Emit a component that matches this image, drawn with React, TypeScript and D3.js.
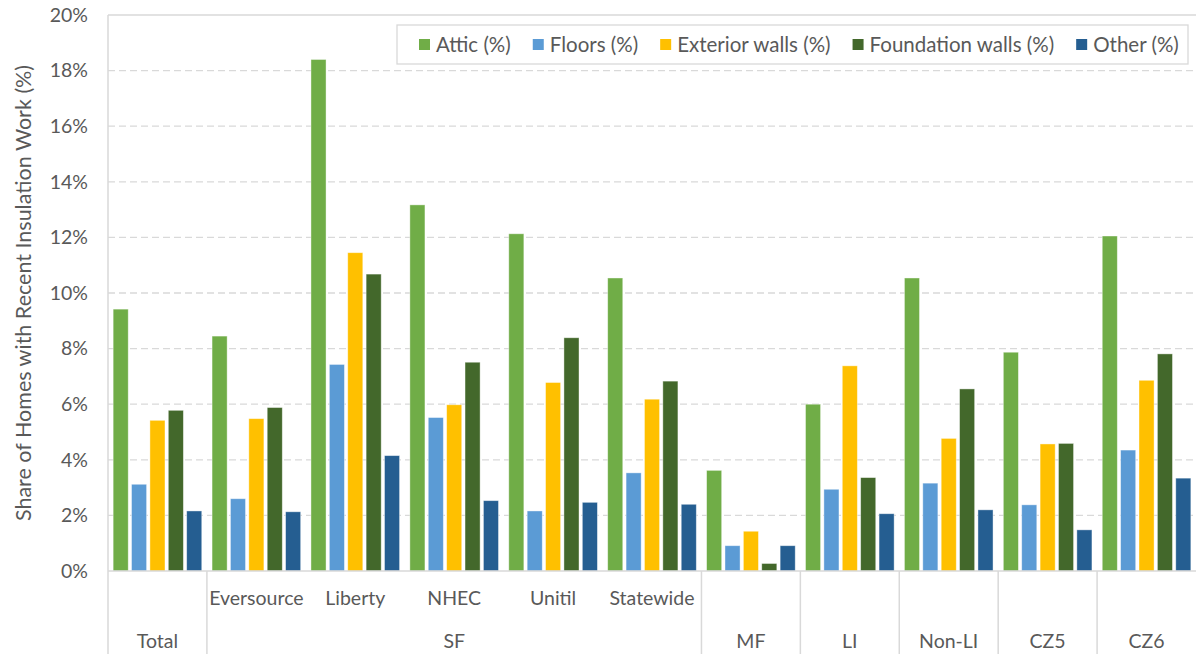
import * as d3 from "d3";
import React, { useEffect, useRef } from "react";

// categories (inner label / outer label for each cluster)
const innerLabels = ["", "Eversource", "Liberty", "NHEC", "Unitil", "Statewide", "", "", "", "", ""];
const outerLabels = ["Total", "SF", "SF", "SF", "SF", "SF", "MF", "LI", "Non-LI", "CZ5", "CZ6"];

const seriesNames = ["Attic (%)", "Floors (%)", "Exterior walls (%)", "Foundation walls (%)", "Other (%)"];
const seriesColors = ["#70AD47", "#5B9BD5", "#FFC000", "#43682B", "#255E91"];

// values in percent
const attic = [9.42, 8.45, 18.4, 13.17, 12.13, 10.54, 3.62, 6.0, 10.54, 7.87, 12.05];
const floors = [3.12, 2.6, 7.43, 5.52, 2.16, 3.53, 0.91, 2.94, 3.16, 2.38, 4.35];
const exteriorWalls = [5.42, 5.48, 11.45, 5.98, 6.78, 6.18, 1.43, 7.38, 4.77, 4.57, 6.86];
const foundationWalls = [5.78, 5.88, 10.68, 7.51, 8.39, 6.83, 0.27, 3.36, 6.55, 4.59, 7.81];
const other = [2.16, 2.13, 4.15, 2.53, 2.47, 2.4, 0.91, 2.06, 2.2, 1.48, 3.34];

const yTicks = [0, 2, 4, 6, 8, 10, 12, 14, 16, 18, 20];

const W = 1196;
const H = 654;
const FONT = "Lato, 'Open Sans', sans-serif";
const TEXT = "#595959";
const GRID = "#D9D9D9";

const App = () => {
  const svgRef = useRef<SVGSVGElement>(null);

  useEffect(() => {
    const allSeries = [attic, floors, exteriorWalls, foundationWalls, other];
    const margin = { left: 108, right: 0, top: 15, bottom: 83 };
    const plotBottom = H - margin.bottom;

    const idx = innerLabels.map((_, i) => i);
    const x0 = d3.scaleBand<number>().domain(idx).range([margin.left, W - margin.right]);
    const x1 = d3.scaleBand<number>()
      .domain(seriesNames.map((_, i) => i))
      .range([0, x0.bandwidth()])
      .paddingInner(0.18)
      .paddingOuter(0.28);
    const y = d3.scaleLinear().domain([0, 20]).range([plotBottom, margin.top]);

    const svgEl = d3.select(svgRef.current);
    svgEl.selectAll("*").remove();
    const svg = svgEl.append("g");

    // gridlines
    svg.append("g")
      .selectAll("line")
      .data(yTicks.filter(t => t > 0))
      .enter()
      .append("line")
      .attr("x1", margin.left)
      .attr("x2", W)
      .attr("y1", d => y(d))
      .attr("y2", d => y(d))
      .attr("stroke", GRID)
      .attr("stroke-width", 1.3)
      .attr("stroke-dasharray", d => (d === 20 ? null : "7,4"));

    // y tick labels
    svg.append("g")
      .selectAll("text")
      .data(yTicks)
      .enter()
      .append("text")
      .attr("x", 88)
      .attr("y", d => y(d))
      .attr("dy", "0.35em")
      .attr("text-anchor", "end")
      .attr("font-family", FONT)
      .attr("font-size", 19.5)
      .attr("fill", TEXT)
      .text(d => d + "%");

    // bars
    const groupsG = svg.append("g")
      .selectAll("g")
      .data(idx)
      .enter()
      .append("g")
      .attr("transform", d => "translate(" + x0(d) + ",0)");

    groupsG.selectAll("rect")
      .data(g => allSeries.map((s, si) => ({ si, v: s[g] })))
      .enter()
      .append("rect")
      .attr("x", d => x1(d.si)!)
      .attr("y", d => y(d.v))
      .attr("width", x1.bandwidth())
      .attr("height", d => plotBottom - y(d.v))
      .attr("fill", d => seriesColors[d.si])
      .attr("stroke", "#ffffff")
      .attr("stroke-opacity", 0.5)
      .attr("stroke-width", 0.8);

    // axes lines
    svg.append("line")
      .attr("x1", margin.left).attr("x2", W)
      .attr("y1", plotBottom).attr("y2", plotBottom)
      .attr("stroke", GRID).attr("stroke-width", 1.5);
    svg.append("line")
      .attr("x1", margin.left).attr("x2", margin.left)
      .attr("y1", margin.top).attr("y2", H)
      .attr("stroke", GRID).attr("stroke-width", 1.5);

    // inner category labels
    svg.append("g")
      .selectAll("text")
      .data(idx.filter(i => innerLabels[i] !== ""))
      .enter()
      .append("text")
      .attr("x", d => x0(d)! + x0.bandwidth() / 2)
      .attr("y", 605)
      .attr("text-anchor", "middle")
      .attr("font-family", FONT)
      .attr("font-size", 19.5)
      .attr("fill", TEXT)
      .text(d => innerLabels[d]);

    // outer spans
    const spans: { label: string; start: number; end: number }[] = [];
    outerLabels.forEach((lab, i) => {
      const last = spans[spans.length - 1];
      if (last && last.label === lab) last.end = i;
      else spans.push({ label: lab, start: i, end: i });
    });

    svg.append("g")
      .selectAll("line")
      .data(spans.slice(1))
      .enter()
      .append("line")
      .attr("x1", d => x0(d.start)!)
      .attr("x2", d => x0(d.start)!)
      .attr("y1", plotBottom)
      .attr("y2", H)
      .attr("stroke", GRID)
      .attr("stroke-width", 1.5);

    svg.append("g")
      .selectAll("text")
      .data(spans)
      .enter()
      .append("text")
      .attr("x", d => (x0(d.start)! + x0(d.end)! + x0.bandwidth()) / 2)
      .attr("y", 648)
      .attr("text-anchor", "middle")
      .attr("font-family", FONT)
      .attr("font-size", 19.5)
      .attr("fill", TEXT)
      .text(d => d.label);

    // y axis title
    svg.append("text")
      .attr("transform", "translate(23," + (margin.top + plotBottom) / 2 + ") rotate(-90)")
      .attr("text-anchor", "middle")
      .attr("dy", "0.35em")
      .attr("font-family", FONT)
      .attr("font-size", 21.5)
      .attr("fill", TEXT)
      .text("Share of Homes with Recent Insulation Work (%)");

    // legend
    const legend = svg.append("g");
    legend.append("rect")
      .attr("x", 397).attr("y", 25)
      .attr("width", 791).attr("height", 39)
      .attr("fill", "#ffffff")
      .attr("stroke", GRID)
      .attr("stroke-width", 1.3);
    let lx = 419;
    seriesNames.forEach((name, i) => {
      legend.append("rect")
        .attr("x", lx).attr("y", 39)
        .attr("width", 11).attr("height", 11)
        .attr("fill", seriesColors[i]);
      const t = legend.append("text")
        .attr("x", lx + 17)
        .attr("y", 45)
        .attr("dy", "0.35em")
        .attr("font-family", FONT)
        .attr("font-size", 20.5)
        .attr("fill", TEXT)
        .text(name);
      const tw = (t.node() as SVGTextElement).getComputedTextLength();
      lx += 17 + tw + 22;
    });
  });

  return (
    <svg
      ref={svgRef}
      width={W}
      height={H}
      style={{ position: "absolute", left: 0, top: 0, background: "#fff" }}
    />
  );
};

export default App;
